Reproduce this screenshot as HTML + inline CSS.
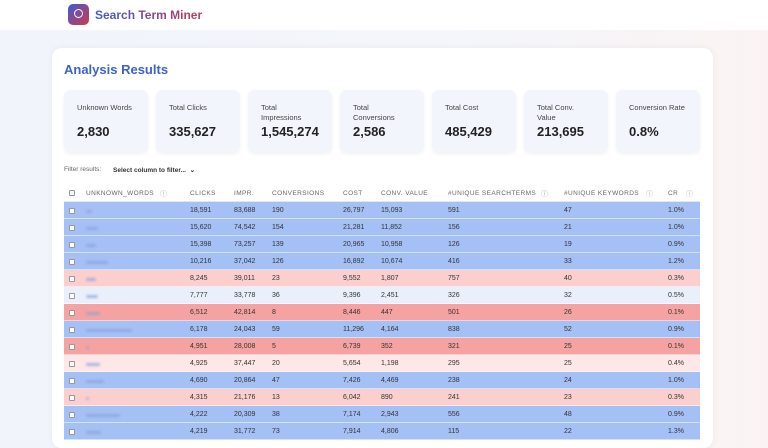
<!DOCTYPE html>
<html><head><meta charset="utf-8"><style>
*{margin:0;padding:0;box-sizing:border-box}
body{width:768px;height:432px;overflow:hidden;font-family:"Liberation Sans",sans-serif;background:linear-gradient(90deg,#f1f4fb 0%,#f4f6fb 60%,#fbf3f3 100%);position:relative;color:#222}
.top{position:absolute;left:0;top:0;width:768px;height:30px;background:#fff}
.logo{position:absolute;left:68px;top:4px;width:21px;height:21px;border-radius:5px;background:linear-gradient(135deg,#3b5bd6,#d23a4a)}
.logo:after{content:"";position:absolute;left:6px;top:5px;width:7px;height:7px;border:1.5px solid #fff;border-radius:50%}
.brand{position:absolute;left:95px;top:8px;font-size:12px;font-weight:bold;background:linear-gradient(90deg,#3b5bd6,#c43a55);-webkit-background-clip:text;color:transparent}
.card{position:absolute;left:52px;top:48px;width:661px;height:400px;background:#fff;border-radius:10px;box-shadow:0 0 8px rgba(0,0,0,.05)}
h1{position:absolute;left:64px;top:62px;font-size:13px;color:#3c63c9;font-weight:bold}
.stat{position:absolute;top:90px;width:84px;height:62px;background:#f3f5fc;border-radius:7px;box-shadow:0 2px 4px rgba(0,0,0,.06)}
.stat .l{position:absolute;left:13px;top:13px;font-size:7.5px;color:#444;line-height:10px}
.stat .v{position:absolute;left:13px;top:34px;font-size:13px;font-weight:bold;color:#222}
.filt{position:absolute;left:64px;top:166px;font-size:6.5px;color:#666}
.sel{position:absolute;left:113px;top:166px;font-size:6.5px;color:#333;font-weight:bold}
.tbl{position:absolute;left:64px;top:184px;width:636px}
.row{position:relative;height:17px;font-size:7px;color:#333;border-bottom:1px solid rgba(255,255,255,.5)}
.row span{position:absolute;top:5px}
.hd{height:18px;background:#fff;color:#666;font-size:6.5px;letter-spacing:.4px;border-bottom:1px solid #e5e7ee}
.hd span{top:6px}
.hd .q{top:5px;font-size:7px}
.cb{left:5px;width:6px;height:6px;border:1px solid #999;border-radius:1px;background:#fff;top:5px!important}
.row .cb{top:6px!important}
.q{color:#aaa}
.w{left:22px;height:3px;background:#8aa0d8;opacity:.7;filter:blur(1.2px);top:8px!important;border-radius:2px}
.b{background:#a4c0f5}.p{background:#fccfcf}.r{background:#f5a2a2}.e{background:#eaf0fb}.lp{background:#fde7e7}
</style></head><body>
<div class="top"></div><div class="logo"></div><div class="brand">Search Term Miner</div>
<div class="card"></div>
<h1>Analysis Results</h1>
<div class="stat" style="left:64px"><div class="l">Unknown Words</div><div class="v">2,830</div></div>
<div class="stat" style="left:156px"><div class="l">Total Clicks</div><div class="v">335,627</div></div>
<div class="stat" style="left:248px"><div class="l">Total<br>Impressions</div><div class="v">1,545,274</div></div>
<div class="stat" style="left:340px"><div class="l">Total<br>Conversions</div><div class="v">2,586</div></div>
<div class="stat" style="left:432px"><div class="l">Total Cost</div><div class="v">485,429</div></div>
<div class="stat" style="left:524px"><div class="l">Total Conv.<br>Value</div><div class="v">213,695</div></div>
<div class="stat" style="left:616px"><div class="l">Conversion Rate</div><div class="v">0.8%</div></div>
<div class="filt">Filter results:</div><div class="sel">Select column to filter... &nbsp;⌄</div>
<div class="tbl">
<div class="row hd"><span class="cb"></span><span style="left:22px">UNKNOWN_WORDS</span><span class="q" style="left:96px">ⓘ</span><span style="left:126px">CLICKS</span><span style="left:170px">IMPR.</span><span style="left:208px">CONVERSIONS</span><span style="left:279px">COST</span><span style="left:317px">CONV. VALUE</span><span style="left:384px">#UNIQUE SEARCHTERMS</span><span class="q" style="left:477px">ⓘ</span><span style="left:500px">#UNIQUE KEYWORDS</span><span class="q" style="left:582px">ⓘ</span><span style="left:604px">CR</span><span class="q" style="left:622px">ⓘ</span></div>
<div id="rows"></div>
</div>
<script>
var d=[["b",6,"18,591","83,688","190","26,797","15,093","591","47","1.0%"],
["b",12,"15,620","74,542","154","21,281","11,852","156","21","1.0%"],
["b",10,"15,398","73,257","139","20,965","10,958","126","19","0.9%"],
["b",22,"10,216","37,042","126","16,892","10,674","416","33","1.2%"],
["p",10,"8,245","39,011","23","9,552","1,807","757","40","0.3%"],
["e",12,"7,777","33,778","36","9,396","2,451","326","32","0.5%"],
["r",14,"6,512","42,814","8","8,446","447","501","26","0.1%"],
["b",46,"6,178","24,043","59","11,296","4,164","838","52","0.9%"],
["r",3,"4,951","28,008","5","6,739","352","321","25","0.1%"],
["lp",14,"4,925","37,447","20","5,654","1,198","295","25","0.4%"],
["b",18,"4,690","20,864","47","7,426","4,469","238","24","1.0%"],
["p",3,"4,315","21,176","13","6,042","890","241","23","0.3%"],
["b",34,"4,222","20,309","38","7,174","2,943","556","48","0.9%"],
["b",15,"4,219","31,772","73","7,914","4,806","115","22","1.3%"]];
var x=[126,170,208,279,317,384,500,604],h="";
d.forEach(function(r){h+='<div class="row '+r[0]+'"><span class="cb"></span><span class="w" style="width:'+r[1]+'px"></span>';
for(var i=0;i<8;i++)h+='<span style="left:'+x[i]+'px">'+r[i+2]+'</span>';h+='</div>';});
document.getElementById('rows').innerHTML=h;
</script>
</body></html>
